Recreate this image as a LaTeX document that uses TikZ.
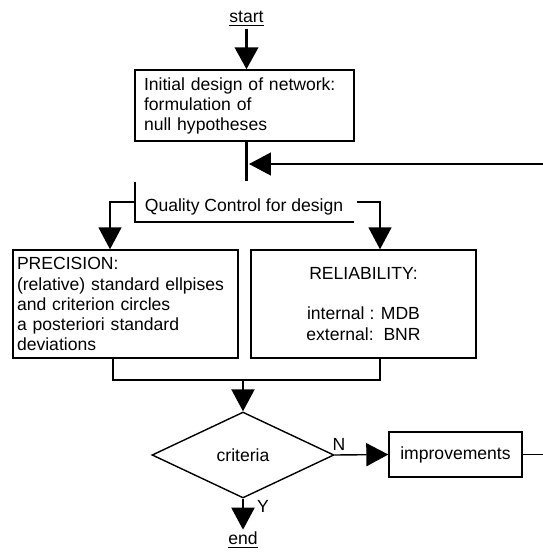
\documentclass[tikz,border=0pt]{standalone}
\usepackage{fontspec}
\setmainfont{Liberation Sans}
\usetikzlibrary{arrows.meta,positioning,shapes.geometric}

\begin{document}
\begin{tikzpicture}[x=0.02cm,y=-0.02cm,
    every node/.style={font=\fontsize{10}{11.4}\selectfont},
    box/.style={draw,line width=0.8pt,inner sep=0pt},
    arr/.style={-{Triangle[width=0.46cm,length=0.44cm]},line width=0.8pt}]
    \useasboundingbox (0,0) rectangle (543,552);
    \node[inner sep=1pt] (start) at (246.5,19) {\underline{start}};
    \node[box,minimum width=4.38cm,minimum height=1.42cm,text width=4.02cm,align=left] (init) at (244.5,105.5) {Initial design of network:\\ formulation of\\ null hypotheses};
    \node[inner sep=0pt] (qc) at (244,207) {Quality Control for design};
    \node[box,minimum width=4.5cm,minimum height=2.16cm,text width=4.34cm,align=left] (prec) at (125.5,304) {PRECISION:\\ (relative) standard ellpises\\ and criterion circles\\ a posteriori standard\\ deviations};
    \node[box,minimum width=4.5cm,minimum height=2.16cm,align=center] (rel) at (363.5,304) {RELIABILITY:\\[11.4pt] internal : MDB\\ external:~~BNR};
    \node[draw,diamond,line width=0.8pt,minimum width=3.64cm,minimum height=1.72cm,inner sep=0pt] (crit) at (243,455) {criteria};
    \node[box,minimum width=2.66cm,minimum height=0.9cm] (impr) at (455.5,454.5) {improvements};
    \node[inner sep=1pt] (end) at (243,540) {\underline{end}};
    \node[inner sep=0pt] (no) at (339,444) {N};
    \node[inner sep=0pt] (yes) at (263,506) {Y};
    \coordinate (stem) at (246.5,181);
    \coordinate (fb) at (249,164);
    \coordinate (qcl) at (135,202);
    \coordinate (qcr) at (357,202);
    \coordinate (merge) at (243,380);
    \draw[arr,line width=2.2pt] (start.south) -- (start |- init.north);
    \draw[line width=2.2pt] (start |- init.south) -- (stem);
    \draw[arr] (impr.east) -- ++(30,0) |- (fb);
    \draw[line width=0.8pt] (135,182) -- (135,222) -- (354,222);
    \draw[arr] (qcl) -| (prec.north -| 110,0);
    \draw[arr] (qcr) -| (rel.north -| 380,0);
    \draw[line width=0.8pt] (prec.south -| 113,0) |- (merge) -| (rel.south -| 380,0);
    \draw[arr,line width=1.2pt] (merge) -- (crit.north);
    \draw[arr] (crit.east) -- (impr.west);
    \draw[arr,line width=1.2pt] (crit.south) -- (end.north);
\end{tikzpicture}
\end{document}
